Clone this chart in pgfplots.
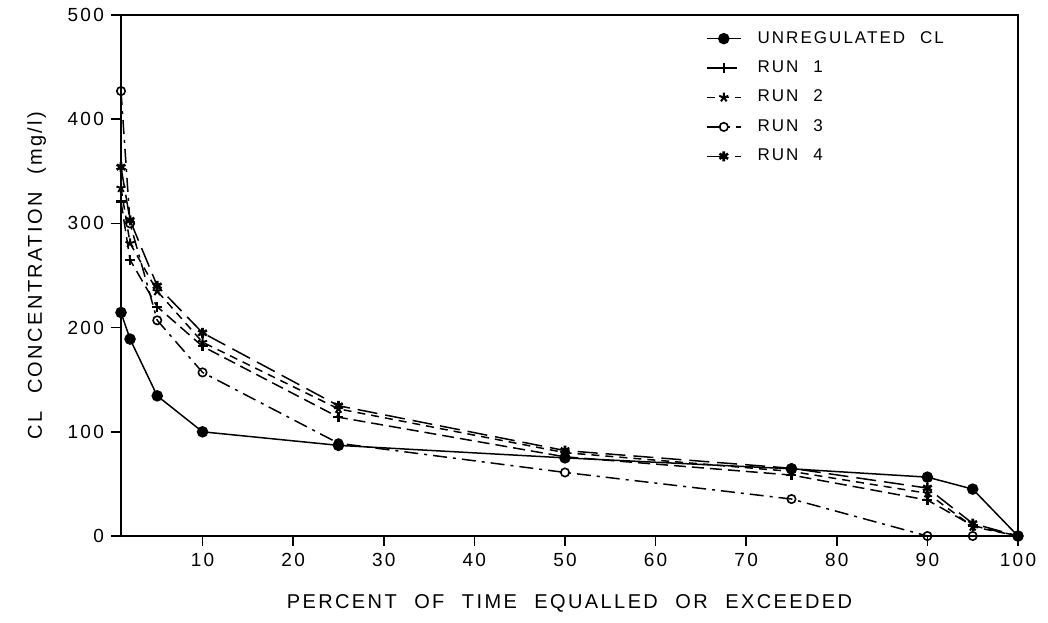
\documentclass[border=0pt]{standalone}
\usepackage{fontspec}
\setmainfont[LetterSpace=12,WordSpace=2.2]{Liberation Sans}
\usepackage{pgfplots}
\pgfplotsset{compat=1.18}

% percent of time equalled or exceeded
\pgfplotstableread{
x    unreg  run1  run2  run3  run4
1    214.5  321   334   427   354
2    189    265   281   300   303
5    134.5  220   235   207   240
10   100    182   186   157   195
25   87     114   122   89    125
50   75     76    80    61    82
75   64.5   58.5  62    35.5  65
90   56.5   34.5  41    0     46
95   45     10    9     0     12
100  0      0     0     0     0
}\cldata

\begin{document}
\begin{tikzpicture}
\begin{axis}[
    scale only axis,
    width=448.5pt, height=260.5pt,
    xmin=1, xmax=100, ymin=0, ymax=500,
    xtick={10,20,...,100},
    ytick={0,100,...,500},
    xtick pos=bottom, ytick pos=left,
    tick align=outside,
    major tick length=5pt,
    tick style={black, line width=0.8pt},
    axis line style={line width=0.8pt},
    /pgf/number format/assume math mode=true,
    ticklabel style={font=\fontsize{9.5}{11}\selectfont},
    label style={font=\fontsize{10}{12}\selectfont},
    xlabel={PERCENT OF TIME EQUALLED OR EXCEEDED},
    ylabel={CL CONCENTRATION (mg/l)},
    xlabel style={yshift=-7pt},
    ylabel style={yshift=4pt},
    clip=false,
    legend style={draw=none, fill=none, at={(0.645,0.985)}, anchor=north west,
        font=\fontsize{8.5}{10}\selectfont, row sep=3.3pt,
        nodes={inner xsep=8pt}},
    legend cell align=left,
    every axis plot/.append style={black, line width=0.75pt},
]
\addplot[solid, mark=*, mark size=2.5pt] table[x=x, y=unreg] {\cldata};
\addlegendentry{UNREGULATED CL}
\addplot[dash pattern=on 6pt off 3pt, mark=+, mark size=2.5pt, mark options={solid, line width=1.1pt}] table[x=x, y=run1] {\cldata};
\addlegendentry{RUN 1}
\addplot[dash pattern=on 4pt off 3pt, mark=star, mark size=2.4pt, mark options={solid, line width=1pt}] table[x=x, y=run2] {\cldata};
\addlegendentry{RUN 2}
\addplot[dash pattern=on 7pt off 3pt on 1.5pt off 3pt, mark=o, mark size=2.1pt, mark options={solid, fill=white, line width=0.8pt}] table[x=x, y=run3] {\cldata};
\addlegendentry{RUN 3}
\addplot[dash pattern=on 10pt off 4pt, mark=asterisk, mark size=2.5pt, mark options={solid, line width=1.3pt}] table[x=x, y=run4] {\cldata};
\addlegendentry{RUN 4}
\coordinate (bl) at (rel axis cs:0,0);
\coordinate (tr) at (rel axis cs:1,1);
\end{axis}
\pgfresetboundingbox
\path ([shift={(-60.5pt,-43pt)}]bl) rectangle ([shift={(15pt,7.5pt)}]tr);
\end{tikzpicture}
\end{document}
